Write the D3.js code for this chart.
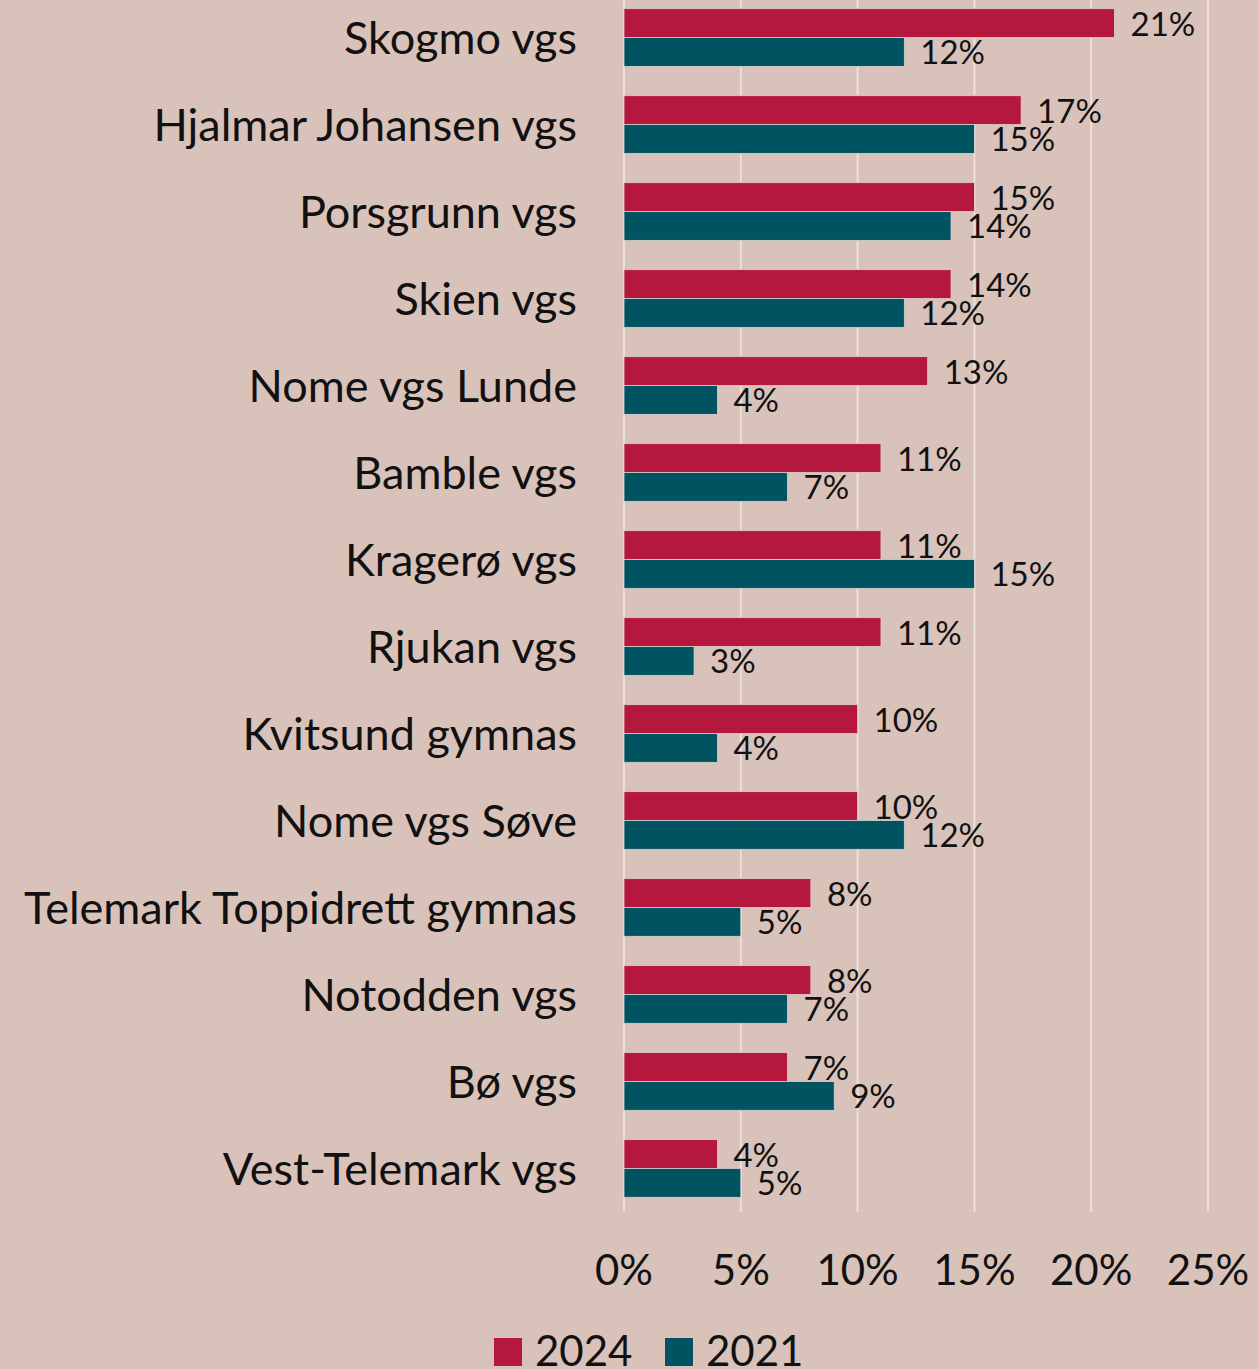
<!DOCTYPE html>
<html>
<head>
<meta charset="utf-8">
<script src="https://cdn.jsdelivr.net/npm/d3@7"></script>
<style>
  body { margin: 0; background: #d9c2ba; }
  svg { display: block; font-family: Lato, "Open Sans", sans-serif; }
</style>
</head>
<body>
<div id="chart"></div>
<script>
const schools = ["Skogmo vgs", "Hjalmar Johansen vgs", "Porsgrunn vgs", "Skien vgs", "Nome vgs Lunde",
  "Bamble vgs", "Kragerø vgs", "Rjukan vgs", "Kvitsund gymnas", "Nome vgs Søve",
  "Telemark Toppidrett gymnas", "Notodden vgs", "Bø vgs", "Vest-Telemark vgs"];
const years = ["2024", "2021"];
const values2024 = [21, 17, 15, 14, 13, 11, 11, 11, 10, 10, 8, 8, 7, 4];
const values2021 = [12, 15, 14, 12, 4, 7, 15, 3, 4, 12, 5, 7, 9, 5];
const xTicks = [0, 5, 10, 15, 20, 25];
const colors = { "2024": "#b5173d", "2021": "#005462" };

const width = 1259, height = 1369;
const margin = { top: -6, right: 51, bottom: 160, left: 624 };

const svg = d3.select("#chart").append("svg")
  .attr("width", width)
  .attr("height", height);

svg.append("rect").attr("width", width).attr("height", height).attr("fill", "#d9c2ba");

const x = d3.scaleLinear().domain([0, 25]).range([margin.left, width - margin.right]);
const y = d3.scaleBand().domain(schools)
  .range([margin.top, height - margin.bottom + 3])
  .paddingInner(0.337).paddingOuter(0.169);
const ySub = d3.scaleBand().domain(years).range([0, y.bandwidth()]);

// gridlines
svg.append("g")
  .selectAll("line")
  .data(xTicks)
  .join("line")
  .attr("x1", d => x(d)).attr("x2", d => x(d))
  .attr("y1", 0).attr("y2", y.range()[1])
  .attr("stroke", "#ebe0dc")
  .attr("stroke-width", 2);

const rows = schools.map((s, i) => ({ school: s, "2024": values2024[i], "2021": values2021[i] }));

const groups = svg.append("g")
  .selectAll("g")
  .data(rows)
  .join("g")
  .attr("transform", d => `translate(0,${y(d.school)})`);

groups.selectAll("rect")
  .data(d => years.map(k => ({ key: k, value: d[k] })))
  .join("rect")
  .attr("x", x(0))
  .attr("y", d => ySub(d.key))
  .attr("width", d => x(d.value) - x(0))
  .attr("height", ySub.bandwidth())
  .attr("fill", d => colors[d.key])
  .attr("stroke", "#d9d0d0")
  .attr("stroke-width", 0.8);

groups.selectAll("text.val")
  .data(d => years.map(k => ({ key: k, value: d[k] })))
  .join("text")
  .attr("class", "val")
  .attr("x", d => x(d.value) + 16)
  .attr("y", d => ySub(d.key) + ySub.bandwidth() / 2)
  .attr("dy", "0.38em")
  .attr("font-size", "33px")
  .attr("fill", "#111")
  .text(d => d.value + "%");

// category labels
svg.append("g")
  .selectAll("text")
  .data(schools)
  .join("text")
  .attr("x", 577)
  .attr("y", d => y(d) + y.bandwidth() / 2)
  .attr("dy", "0.36em")
  .attr("text-anchor", "end")
  .attr("font-size", "45px")
  .attr("fill", "#111")
  .text(d => d);

// x tick labels
svg.append("g")
  .selectAll("text")
  .data(xTicks)
  .join("text")
  .attr("x", d => x(d))
  .attr("y", 1285)
  .attr("text-anchor", "middle")
  .attr("font-size", "42px")
  .attr("fill", "#111")
  .text(d => d + "%");

// legend
const legendX = [494, 665];
const legend = svg.append("g")
  .selectAll("g")
  .data(years)
  .join("g")
  .attr("transform", (d, i) => `translate(${legendX[i]},1338)`);

legend.append("rect")
  .attr("width", 28).attr("height", 28)
  .attr("fill", d => colors[d]);

legend.append("text")
  .attr("x", 41)
  .attr("y", 28)
  .attr("font-size", "42px")
  .attr("fill", "#111")
  .text(d => d);
</script>
</body>
</html>
